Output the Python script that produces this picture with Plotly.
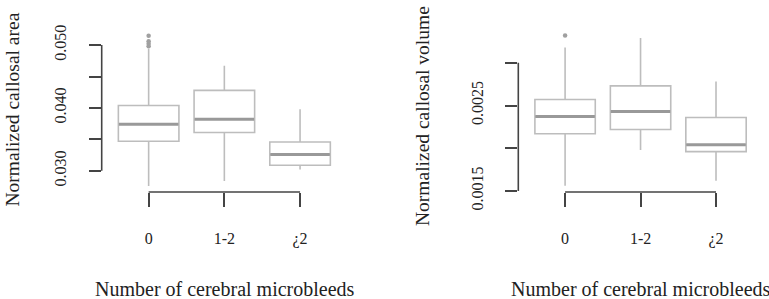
import plotly.graph_objects as go

categories = ["0", "1-2", "¿2"]

# Panel A: normalized callosal area
area_lower = [0.0276, 0.0284, 0.0302]
area_q1 = [0.0347, 0.0361, 0.0309]
area_median = [0.0374, 0.0382, 0.0326]
area_q3 = [0.0404, 0.0428, 0.0346]
area_upper = [0.0494, 0.0467, 0.0398]
area_outlier_cat = ["0", "0", "0", "0"]
area_outliers = [0.0498, 0.0502, 0.0506, 0.0515]
area_tickvals = [0.030, 0.035, 0.040, 0.045, 0.050]
area_ticktext = ["0.030", "", "0.040", "", "0.050"]

# Panel B: normalized callosal volume
vol_lower = [0.00156, 0.00198, 0.00162]
vol_q1 = [0.00217, 0.00222, 0.00196]
vol_median = [0.00237, 0.00243, 0.00204]
vol_q3 = [0.00257, 0.00273, 0.00236]
vol_upper = [0.00318, 0.00329, 0.00278]
vol_outlier_cat = ["0"]
vol_outliers = [0.00332]
vol_tickvals = [0.0015, 0.0020, 0.0025, 0.0030]
vol_ticktext = ["0.0015", "", "0.0025", ""]

x_title = "Number of cerebral microbleeds"
y_titles = ["Normalized callosal area", "Normalized callosal volume"]

FONT = "Liberation Serif"
BOX_COL = "#bdbdbd"
MED_COL = "#999999"
AX_COL = "#444444"

fig = go.Figure()

panels = [
    dict(xa="x", ya="y", lower=area_lower, q1=area_q1, med=area_median, q3=area_q3,
         upper=area_upper, ocat=area_outlier_cat, out=area_outliers,
         tv=area_tickvals, tt=area_ticktext, yr=[0.02664, 0.05246]),
    dict(xa="x2", ya="y2", lower=vol_lower, q1=vol_q1, med=vol_median, q3=vol_q3,
         upper=vol_upper, ocat=vol_outlier_cat, out=vol_outliers,
         tv=vol_tickvals, tt=vol_ticktext, yr=[0.001488, 0.003388]),
]

for p in panels:
    fig.add_trace(go.Box(
        x=categories, q1=p["q1"], median=p["med"], q3=p["q3"],
        lowerfence=p["lower"], upperfence=p["upper"],
        width=0.8, whiskerwidth=0, boxpoints=False,
        fillcolor="white", line=dict(color=BOX_COL, width=1.6),
        xaxis=p["xa"], yaxis=p["ya"], showlegend=False, hoverinfo="skip",
    ))
    fig.add_trace(go.Scatter(
        x=categories, y=p["med"], mode="markers",
        marker=dict(symbol="line-ew", size=42.5, line=dict(color=MED_COL, width=3)),
        xaxis=p["xa"], yaxis=p["ya"], showlegend=False, hoverinfo="skip",
    ))
    fig.add_trace(go.Scatter(
        x=p["ocat"], y=p["out"], mode="markers",
        marker=dict(symbol="circle", size=4.5, color="#a0a0a0"),
        xaxis=p["xa"], yaxis=p["ya"], showlegend=False, hoverinfo="skip",
    ))

xdom = [[101.7 / 769, 347 / 769], [518.3 / 769, 762.8 / 769]]
ydom = [(299 - 192) / 299, (299 - 29.6) / 299]

layout = dict(
    template="none",
    width=769, height=299, autosize=False,
    margin=dict(l=0, r=0, t=0, b=0, pad=0, autoexpand=False),
    paper_bgcolor="white", plot_bgcolor="white",
    font=dict(family=FONT, size=16, color="#222222"),
)
for i, p in enumerate(panels):
    sx = "" if i == 0 else "2"
    layout["xaxis" + sx] = dict(
        domain=xdom[i], anchor="y" + sx, type="category", automargin=False,
        categoryorder="array", categoryarray=categories,
        range=[-0.62, 2.62], showline=False, showgrid=False, zeroline=False,
        ticks="outside", ticklen=14, tickwidth=1.6, tickcolor=AX_COL,
        ticklabelstandoff=18, tickfont=dict(family=FONT, size=16, color="#222"),
    )
    layout["yaxis" + sx] = dict(
        domain=ydom, anchor="x" + sx, range=p["yr"], automargin=False,
        showline=False, showgrid=False, zeroline=False,
        tickvals=p["tv"], ticktext=p["tt"], tickangle=-90,
        ticks="outside", ticklen=12, tickwidth=1.6, tickcolor=AX_COL,
        ticklabelstandoff=16, tickfont=dict(family=FONT, size=16, color="#222"),
    )
fig.update_layout(**layout)

shapes = []
for i, p in enumerate(panels):
    sx = "" if i == 0 else "2"
    shapes.append(dict(type="line", xref="x" + sx + " domain", yref="y" + sx,
                       x0=0, x1=0, y0=p["tv"][0], y1=p["tv"][-1],
                       line=dict(color=AX_COL, width=1.6)))
    shapes.append(dict(type="line", xref="x" + sx, yref="y" + sx + " domain",
                       x0=0, x1=len(categories) - 1, y0=0, y1=0,
                       line=dict(color=AX_COL, width=1.6)))
fig.update_layout(shapes=shapes)

annotations = []
for cx in [224.5, 640.5]:
    annotations.append(dict(text=x_title, xref="paper", yref="paper",
                            x=cx / 769, y=(299 - 289) / 299, xanchor="center", yanchor="middle",
                            showarrow=False, font=dict(family=FONT, size=20, color="#222")))
for cx, cy, t in zip([11.5, 423], [110, 116], y_titles):
    annotations.append(dict(text=t, xref="paper", yref="paper",
                            x=cx / 769, y=(299 - cy) / 299, xanchor="center", yanchor="middle",
                            textangle=-90, showarrow=False,
                            font=dict(family=FONT, size=19.5, color="#222")))
fig.update_layout(annotations=annotations)

fig.write_html("out.html", config={"displayModeBar": False},
               post_script="document.body.style.margin='0';document.body.style.overflow='hidden';")
